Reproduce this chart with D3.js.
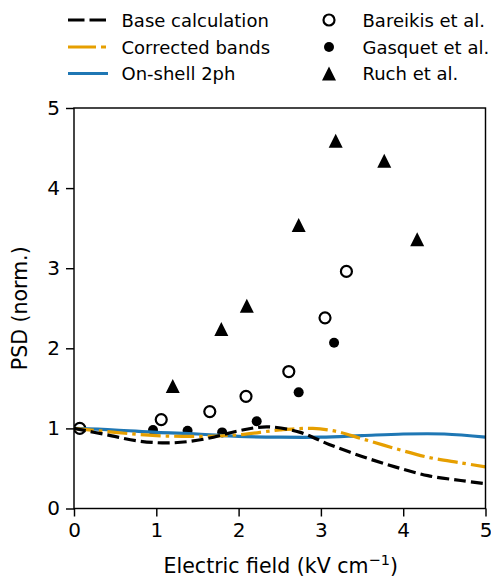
<!DOCTYPE html>
<html>
<head>
<meta charset="utf-8">
<script src="https://cdn.jsdelivr.net/npm/d3@7"></script>
<style>
  body { margin: 0; background: #fff; }
  svg { display: block; font-family: "DejaVu Sans", sans-serif; }
</style>
</head>
<body>
<svg id="chart" width="491" height="579"></svg>
<script>
// ---- data ----
const baseX = [0, 0.4, 0.8, 1.2, 1.6, 2.0, 2.35, 2.75, 3.1, 3.5, 3.9, 4.3, 4.7, 5.0];
const baseY = [1.0, 0.92, 0.84, 0.82, 0.87, 0.97, 1.02, 0.95, 0.80, 0.65, 0.52, 0.41, 0.35, 0.31];
const corrX = [0, 0.5, 1.0, 1.5, 2.0, 2.5, 2.9, 3.2, 3.5, 3.9, 4.3, 4.7, 5.0];
const corrY = [1.0, 0.95, 0.91, 0.90, 0.92, 0.98, 1.0, 0.96, 0.87, 0.75, 0.64, 0.57, 0.52];
const shellX = [0, 0.5, 1.0, 1.5, 2.0, 2.5, 3.0, 3.5, 4.0, 4.5, 5.0];
const shellY = [1.0, 0.98, 0.95, 0.93, 0.90, 0.89, 0.89, 0.91, 0.93, 0.93, 0.89];

const bareikisX = [0.07, 1.06, 1.65, 2.09, 2.61, 3.05, 3.31];
const bareikisY = [1.0, 1.11, 1.21, 1.40, 1.71, 2.38, 2.96];
const gasquetX = [0.96, 1.38, 1.80, 2.22, 2.73, 3.16];
const gasquetY = [0.98, 0.97, 0.95, 1.09, 1.45, 2.07];
const ruchX = [1.20, 1.79, 2.10, 2.73, 3.18, 3.77, 4.17];
const ruchY = [1.53, 2.24, 2.53, 3.54, 4.59, 4.34, 3.36];

const xTicks = [0, 1, 2, 3, 4, 5];
const yTicks = [0, 1, 2, 3, 4, 5];

// ---- layout ----
const svg = d3.select("#chart");
const L = 74, R = 485.5, T = 108, B = 508.5;
const fs = 18, tfs = 20, lfs = 20.5;
const x = d3.scaleLinear().domain([0, 5]).range([L, R]);
const y = d3.scaleLinear().domain([0, 5]).range([B, T]);

const zip = (a, b) => a.map((v, i) => [v, b[i]]);
const line = d3.line().x(d => x(d[0])).y(d => y(d[1])).curve(d3.curveCatmullRom.alpha(0.5));

svg.append("defs").append("clipPath").attr("id", "clip")
  .append("rect").attr("x", L).attr("y", T).attr("width", R - L).attr("height", B - T);

const plot = svg.append("g").attr("clip-path", "url(#clip)");

// markers (below lines)
function triPath(s) { return `M0,${-s}L${s},${s}L${-s},${s}Z`; }
plot.selectAll(".bar").data(zip(bareikisX, bareikisY)).join("circle")
  .attr("cx", d => x(d[0])).attr("cy", d => y(d[1])).attr("r", 5.5)
  .attr("fill", "none").attr("stroke", "#000").attr("stroke-width", 2.2);
plot.selectAll(".gas").data(zip(gasquetX, gasquetY)).join("circle")
  .attr("cx", d => x(d[0])).attr("cy", d => y(d[1])).attr("r", 5)
  .attr("fill", "#000");
plot.selectAll(".ruch").data(zip(ruchX, ruchY)).join("path")
  .attr("d", triPath(7)).attr("transform", d => `translate(${x(d[0])},${y(d[1])})`)
  .attr("fill", "#000");

// lines
const lw = 3.2;
plot.append("path").attr("d", line(zip(shellX, shellY))).attr("fill", "none")
  .attr("stroke", "#1f77b4").attr("stroke-width", lw);
plot.append("path").attr("d", line(zip(corrX, corrY))).attr("fill", "none")
  .attr("stroke", "#E69F00").attr("stroke-width", lw).attr("stroke-dasharray", "20,5,3.5,5");
plot.append("path").attr("d", line(zip(baseX, baseY))).attr("fill", "none")
  .attr("stroke", "#000").attr("stroke-width", lw).attr("stroke-dasharray", "12,5");

// axes
const xAxis = svg.append("g").attr("transform", `translate(0,${B})`)
  .call(d3.axisBottom(x).tickValues(xTicks).tickFormat(d3.format("d")).tickSize(8).tickPadding(6));
const yAxis = svg.append("g").attr("transform", `translate(${L},0)`)
  .call(d3.axisLeft(y).tickValues(yTicks).tickFormat(d3.format("d")).tickSize(8).tickPadding(6));
[xAxis, yAxis].forEach(a => {
  a.select(".domain").remove();
  a.selectAll("line").attr("stroke", "#000").attr("stroke-width", 1.45);
  a.selectAll("text").attr("font-size", tfs).attr("font-family", "DejaVu Sans").attr("fill", "#000");
});
// frame
svg.append("rect").attr("x", L).attr("y", T).attr("width", R - L).attr("height", B - T)
  .attr("fill", "none").attr("stroke", "#000").attr("stroke-width", 1.45);

// axis labels
const xl = svg.append("text").attr("x", (L + R) / 2 + 1).attr("y", 573).attr("text-anchor", "middle")
  .attr("font-size", lfs);
xl.append("tspan").text("Electric field (kV cm");
xl.append("tspan").attr("dy", -8).attr("font-size", 14.5).text("\u22121");
xl.append("tspan").attr("dy", 8).text(")");
svg.append("text").attr("transform", `translate(27,${(T + B) / 2}) rotate(-90)`)
  .attr("text-anchor", "middle").attr("font-size", lfs).text("PSD (norm.)");

// legend
const leg = svg.append("g");
const rows = [20, 47, 73.5];
const lineItems = [
  { label: "Base calculation", color: "#000", dash: "16.5,5" },
  { label: "Corrected bands", color: "#E69F00", dash: "28,5,5,5" },
  { label: "On-shell 2ph", color: "#1f77b4", dash: null }
];
lineItems.forEach((it, i) => {
  leg.append("line").attr("x1", 68).attr("x2", 108).attr("y1", rows[i]).attr("y2", rows[i])
    .attr("stroke", it.color).attr("stroke-width", lw).attr("stroke-dasharray", it.dash);
  leg.append("text").attr("x", 121.5).attr("y", rows[i] + 6.5).attr("font-size", fs).text(it.label);
});
const mx = 329;
leg.append("circle").attr("cx", mx).attr("cy", rows[0]).attr("r", 5.5)
  .attr("fill", "none").attr("stroke", "#000").attr("stroke-width", 2.2);
leg.append("circle").attr("cx", mx).attr("cy", rows[1]).attr("r", 5).attr("fill", "#000");
leg.append("path").attr("d", triPath(7)).attr("transform", `translate(${mx},${rows[2]})`).attr("fill", "#000");
["Bareikis et al.", "Gasquet et al.", "Ruch et al."].forEach((t, i) => {
  leg.append("text").attr("x", 362.5).attr("y", rows[i] + 6.5).attr("font-size", fs).text(t);
});
</script>
</body>
</html>
